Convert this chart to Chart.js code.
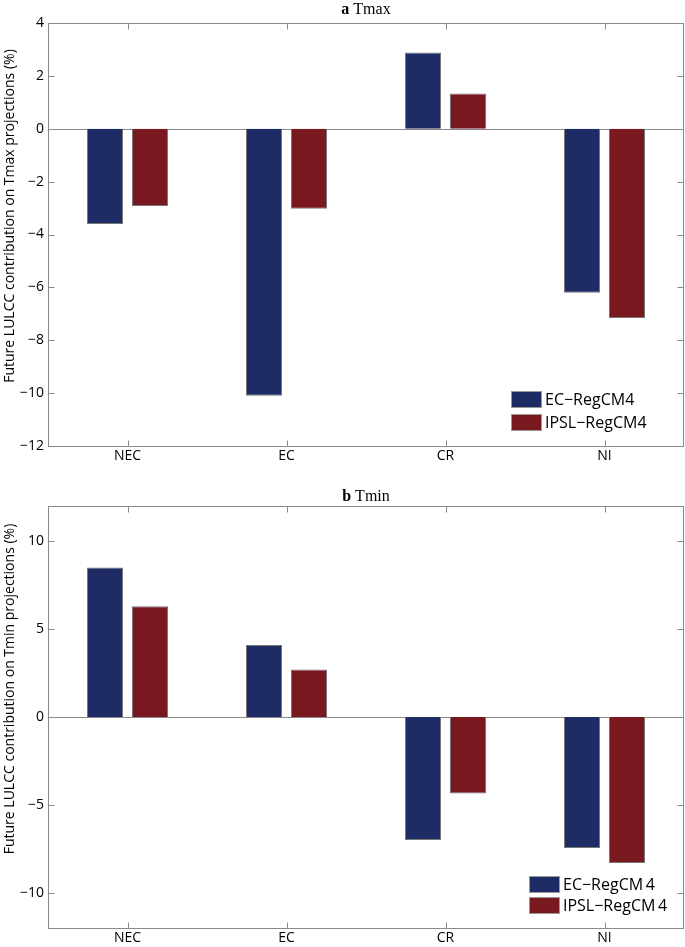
<!DOCTYPE html>
<html>
<head>
<meta charset="utf-8">
<script src="https://cdn.jsdelivr.net/npm/chart.js@4.4.1/dist/chart.umd.min.js"></script>
<style>
  body { margin: 0; background: #fff; }
  .panel { position: relative; width: 685px; }
  .title { position: absolute; left: 48px; width: 636px; text-align: center;
           font-family: "Liberation Serif", serif; font-size: 16px; color: #000; }
  .title b { margin-right: 4px; }
  canvas { display: block; }
</style>
</head>
<body>
<div class="panel" style="height:470px">
  <div class="title" style="top:0px"><b>a</b>Tmax</div>
  <canvas id="chartA" width="685" height="470"></canvas>
</div>
<div class="panel" style="height:477px">
  <div class="title" style="top:17px"><b>b</b>Tmin</div>
  <canvas id="chartB" width="685" height="477"></canvas>
</div>
<script>
// regions and model runs
const regions = ["NEC", "EC", "CR", "NI"];
const seriesNames = ["EC\u2212RegCM4", "IPSL\u2212RegCM4"];
const seriesNamesB = ["EC\u2212RegCM\u20094", "IPSL\u2212RegCM\u20094"];

// panel a: Tmax (%)
const tmaxEC = [-3.6, -10.1, 2.88, -6.2];
const tmaxIPSL = [-2.92, -3.03, 1.33, -7.16];
const ticksA = [4, 2, 0, -2, -4, -6, -8, -10, -12];

// panel b: Tmin (%)
const tminEC = [8.5, 4.1, -7.0, -7.45];
const tminIPSL = [6.3, 2.7, -4.35, -8.3];
const ticksB = [10, 5, 0, -5, -10];

const blue = "#1f2b64";
const red = "#7a1820";
const frame = "#8a8a8a";
const sans = "'Open Sans', sans-serif";

const minus = v => String(v).replace("-", "\u2212");

// MATLAB-like box: full frame, inward ticks, zero line, y title, legend inside
const matlabBox = {
    id: "matlabBox",
    beforeDatasetsDraw(chart) {
        const { ctx, chartArea: a, scales } = chart;
        const y0 = Math.round(scales.y.getPixelForValue(0)) + 0.5;
        ctx.save();
        ctx.strokeStyle = frame;
        ctx.lineWidth = 1;
        ctx.beginPath();
        ctx.moveTo(a.left, y0);
        ctx.lineTo(a.right, y0);
        ctx.stroke();
        ctx.restore();
    },
    afterDraw(chart, args, opts) {
        const { ctx, chartArea: a, scales } = chart;
        const L = Math.round(a.left) + 0.5, R = Math.round(a.right) - 0.5;
        const T = Math.round(a.top) + 0.5, B = Math.round(a.bottom) + 0.5;
        ctx.save();
        ctx.strokeStyle = frame;
        ctx.lineWidth = 1;
        ctx.strokeRect(L, T, R - L, B - T);
        ctx.beginPath();
        scales.y.ticks.forEach(t => {
            const y = Math.round(scales.y.getPixelForValue(t.value)) + 0.5;
            ctx.moveTo(L, y); ctx.lineTo(L + 6, y);
            ctx.moveTo(R, y); ctx.lineTo(R - 6, y);
        });
        regions.forEach((_, i) => {
            const x = Math.round(scales.x.getPixelForValue(i)) + 0.5;
            ctx.moveTo(x, B); ctx.lineTo(x, B - 6);
            ctx.moveTo(x, T); ctx.lineTo(x, T + 6);
        });
        ctx.stroke();

        // y axis title
        ctx.save();
        ctx.translate(10, opts.titleY);
        ctx.rotate(-Math.PI / 2);
        ctx.font = "14px " + sans;
        ctx.fillStyle = "#000";
        ctx.textAlign = "center";
        ctx.textBaseline = "middle";
        ctx.fillText(opts.yTitle, 0, 0);
        ctx.restore();

        // legend
        ctx.font = "16px " + sans;
        ctx.textBaseline = "middle";
        ctx.textAlign = "left";
        chart.data.datasets.forEach((ds, i) => {
            const y = opts.y + i * opts.step;
            ctx.fillStyle = ds.backgroundColor;
            ctx.fillRect(opts.x, y, 31, 17);
            ctx.strokeStyle = "#999";
            ctx.strokeRect(opts.x + 0.5, y + 0.5, 30, 16);
            ctx.fillStyle = "#000";
            ctx.fillText(ds.label, opts.x + 34, y + 9);
        });
        ctx.restore();
    }
};

function makeChart(id, ec, ipsl, names, yTicks, yMin, yMax, boxOpts, pad) {
    return new Chart(document.getElementById(id), {
        type: "bar",
        data: {
            labels: regions,
            datasets: [
                { label: names[0], data: ec, backgroundColor: blue, borderColor: "#777", borderWidth: 1 },
                { label: names[1], data: ipsl, backgroundColor: red, borderColor: "#777", borderWidth: 1 },
            ],
        },
        options: {
            responsive: false,
            animation: false,
            devicePixelRatio: 1,
            categoryPercentage: 0.566,
            barPercentage: 0.8,
            layout: { padding: { top: pad.top, right: 1, left: 0, bottom: 0 } },
            plugins: {
                legend: { display: false },
                tooltip: { enabled: false },
                matlabBox: boxOpts,
            },
            scales: {
                x: {
                    grid: { display: false, drawTicks: false },
                    border: { display: false },
                    ticks: { color: "#000", font: { family: sans, size: 14 }, padding: 2 },
                    afterFit: s => { s.height = pad.xh; },
                },
                y: {
                    min: yMin,
                    max: yMax,
                    grid: { display: false, drawTicks: false },
                    border: { display: false },
                    afterBuildTicks: s => { s.ticks = yTicks.map(v => ({ value: v })); },
                    ticks: {
                        color: "#000",
                        font: { family: sans, size: 14 },
                        padding: 4,
                        callback: v => minus(v),
                    },
                    afterFit: s => { s.width = 48; },
                },
            },
        },
        plugins: [matlabBox],
    });
}

makeChart("chartA", tmaxEC, tmaxIPSL, seriesNames, ticksA, -12, 4,
    { x: 511, y: 391, step: 23, titleY: 216,
      yTitle: "Future LULCC contribution on Tmax projections (%)" },
    { top: 23, xh: 24 });

makeChart("chartB", tminEC, tminIPSL, seriesNamesB, ticksB, -12, 12,
    { x: 529, y: 406, step: 21, titleY: 219,
      yTitle: "Future LULCC contribution on Tmin projections (%)" },
    { top: 36, xh: 19 });
</script>
</body>
</html>
